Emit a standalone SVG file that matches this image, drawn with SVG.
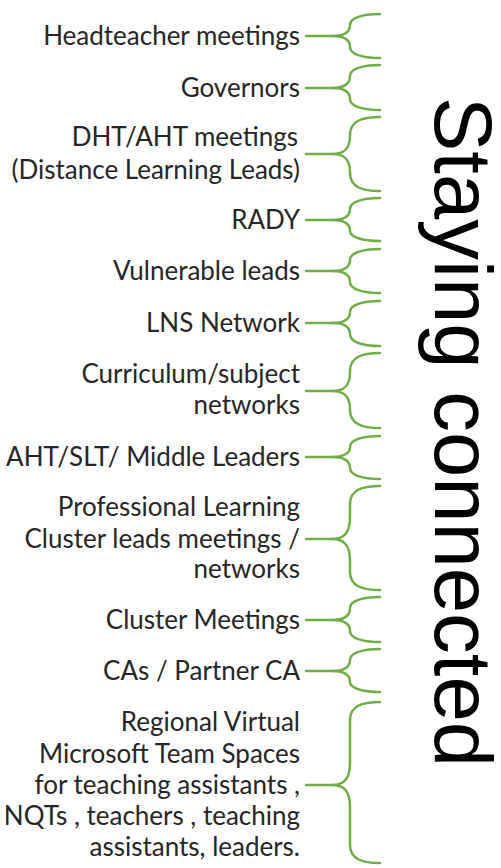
<svg xmlns="http://www.w3.org/2000/svg" width="501" height="868" viewBox="0 0 501 868">
<style>
.lbl{font-family:Lato,"Open Sans","Liberation Sans",sans-serif;font-size:26px;fill:#262626;text-anchor:end}
.br{fill:none;stroke:#70AD47;stroke-width:2.5;stroke-linecap:round}
.title{font-family:"Liberation Sans",Arial,sans-serif;font-size:82px;fill:#000}
</style>
<rect width="501" height="868" fill="#fff"/>
<g id="connectors">
<path class="br" d="M306,36H332M306,88H332M306,154H332M306,220H332M306,271H332M306,323H332M306,391H332M306,457H332M306,539H332M306,620H332M306,671H332M306,785H332"/>
</g>
<g id="n1"><text class="lbl" x="300" y="45">Headteacher meetings</text>
<path class="br" d="M380,14C362,14 350,18 350,25C350,32 344,36 332,36C344,36 350,40 350,47C350,54 362,58 380,58"/></g>
<g id="n2"><text class="lbl" x="300" y="97">Governors</text>
<path class="br" d="M380,65C362,65 350,69 350,76C350,84 344,88 332,88C344,88 350,92 350,99C350,106 362,110 380,110"/></g>
<g id="n3"><text class="lbl" x="298" y="146">DHT/AHT meetings</text><text class="lbl" x="300" y="179">(Distance Learning Leads)</text>
<path class="br" d="M380,117C362,117 350,121 350,135V136C350,149 344,154 332,154C344,154 350,159 350,172V173C350,187 362,191 380,191"/></g>
<g id="n4"><text class="lbl" x="300" y="229">RADY</text>
<path class="br" d="M380,198C362,198 350,202 350,209C350,216 344,220 332,220C344,220 350,224 350,231C350,237 362,241 380,241"/></g>
<g id="n5"><text class="lbl" x="300" y="280">Vulnerable leads</text>
<path class="br" d="M380,249C362,249 350,253 350,260C350,267 344,271 332,271C344,271 350,275 350,282C350,289 362,293 380,293"/></g>
<g id="n6"><text class="lbl" x="300" y="332">LNS Network</text>
<path class="br" d="M380,301C362,301 350,305 350,312C350,319 344,323 332,323C344,323 350,327 350,334C350,342 362,346 380,346"/></g>
<g id="n7"><text class="lbl" x="300" y="383">Curriculum/subject</text><text class="lbl" x="300" y="414">networks</text>
<path class="br" d="M380,353C362,353 350,357 350,371V373C350,386 344,391 332,391C344,391 350,396 350,409V410C350,424 362,428 380,428"/></g>
<g id="n8"><text class="lbl" x="300" y="466">AHT/SLT/ Middle Leaders</text>
<path class="br" d="M380,436C362,436 350,440 350,447C350,453 344,457 332,457C344,457 350,461 350,468C350,475 362,479 380,479"/></g>
<g id="n9"><text class="lbl" x="300" y="516">Professional Learning</text><text class="lbl" x="300" y="548">Cluster leads meetings /</text><text class="lbl" x="300" y="578">networks</text>
<path class="br" d="M380,486C362,486 350,490 350,504V517C350,533 344,539 332,539C344,539 350,545 350,561V572C350,586 362,590 380,590"/></g>
<g id="n10"><text class="lbl" x="300" y="629">Cluster Meetings</text>
<path class="br" d="M380,597C362,597 350,601 350,608C350,616 344,620 332,620C344,620 350,624 350,631C350,638 362,642 380,642"/></g>
<g id="n11"><text class="lbl" x="300" y="680">CAs / Partner CA</text>
<path class="br" d="M380,649C362,649 350,653 350,660C350,667 344,671 332,671C344,671 350,675 350,682C350,688 362,692 380,692"/></g>
<g id="n12"><text class="lbl" x="300" y="731">Regional Virtual</text><text class="lbl" x="300" y="763">Microsoft Team Spaces</text><text class="lbl" x="300" y="794">for teaching assistants ,</text><text class="lbl" x="300" y="825">NQTs , teachers , teaching</text><text class="lbl" x="300" y="856">assistants, leaders.</text>
<path class="br" d="M380,702C362,702 350,706 350,720V763C350,779 344,785 332,785C344,785 350,791 350,807V845C350,859 362,863 380,863"/></g>
<g id="title"><text class="title" transform="translate(435,97) rotate(90)" textLength="670" lengthAdjust="spacingAndGlyphs">Staying connected</text></g>
</svg>
